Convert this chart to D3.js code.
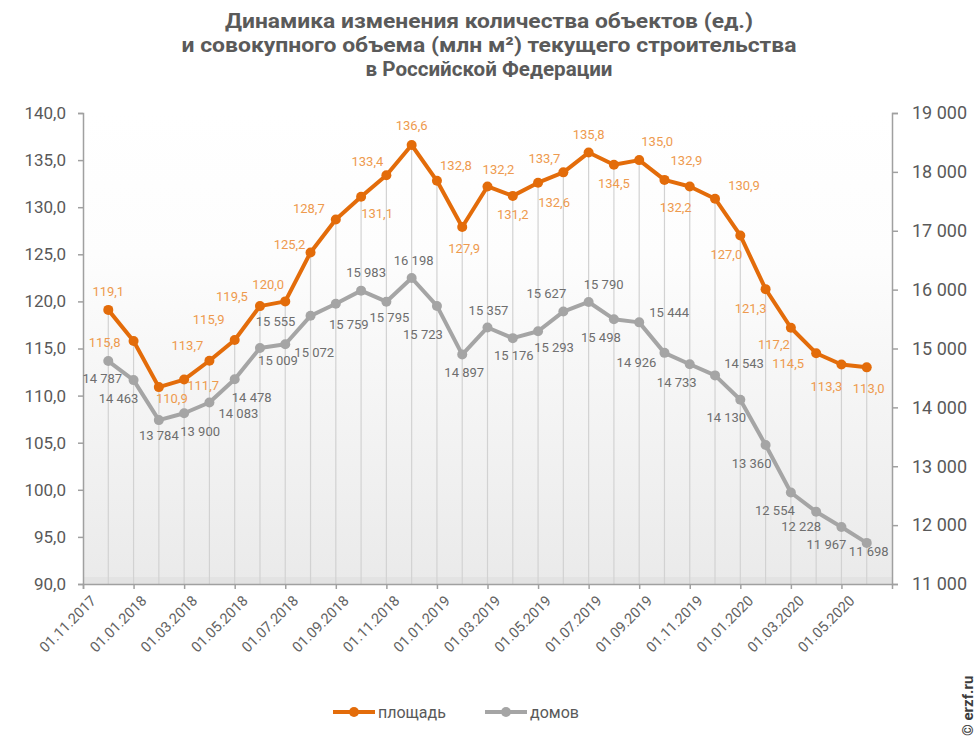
<!DOCTYPE html>
<html>
<head>
<meta charset="utf-8">
<script src="https://cdn.jsdelivr.net/npm/d3@7"></script>
<style>
  body { margin: 0; background: #fff; }
  text { font-family: Roboto, "Noto Sans", sans-serif; }
</style>
</head>
<body>
<svg id="chart" width="979" height="744"></svg>
<script>
// Monthly observations, 01.12.2017 – 01.06.2020
const months = [
  "01.12.2017","01.01.2018","01.02.2018","01.03.2018","01.04.2018","01.05.2018",
  "01.06.2018","01.07.2018","01.08.2018","01.09.2018","01.10.2018","01.11.2018",
  "01.12.2018","01.01.2019","01.02.2019","01.03.2019","01.04.2019","01.05.2019",
  "01.06.2019","01.07.2019","01.08.2019","01.09.2019","01.10.2019","01.11.2019",
  "01.12.2019","01.01.2020","01.02.2020","01.03.2020","01.04.2020","01.05.2020",
  "01.06.2020"
];
// total volume, mln m² (left axis)
const area = [
  119.1, 115.8, 110.9, 111.7, 113.7, 115.9, 119.5, 120.0, 125.2, 128.7, 131.1,
  133.4, 136.6, 132.8, 127.9, 132.2, 131.2, 132.6, 133.7, 135.8, 134.5, 135.0,
  132.9, 132.2, 130.9, 127.0, 121.3, 117.2, 114.5, 113.3, 113.0
];
// number of buildings (right axis)
const houses = [
  14787, 14463, 13784, 13900, 14083, 14478, 15009, 15072, 15555, 15759, 15983,
  15795, 16198, 15723, 14897, 15357, 15176, 15293, 15627, 15790, 15498, 15444,
  14926, 14733, 14543, 14130, 13360, 12554, 12228, 11967, 11698
];
const tickLabels = [
  "01.11.2017","01.01.2018","01.03.2018","01.05.2018","01.07.2018","01.09.2018",
  "01.11.2018","01.01.2019","01.03.2019","01.05.2019","01.07.2019","01.09.2019",
  "01.11.2019","01.01.2020","01.03.2020","01.05.2020"
];
const leftTicks = [90, 95, 100, 105, 110, 115, 120, 125, 130, 135, 140];
const rightTicks = [11000, 12000, 13000, 14000, 15000, 16000, 17000, 18000, 19000];
const seriesNames = ["площадь", "домов"];
const titleLines = [
  "Динамика изменения количества объектов (ед.)",
  "и совокупного объема (млн м²) текущего строительства",
  "в Российской Федерации"
];

// label placement relative to each marker (layout only)
const areaLabelShift = [
  [0,-18],[-29,1],[13,11],[19,6],[-22,-15],[-26,-21],[-28,-10],[-17,-17],[-21,-8],[-27,-11],
  [16,17],[-19,-14],[0,-20],[19,-15],[2,21],[11,-17],[0,19],[16,20],[-19,-14],[0,-18],
  [0,19],[18,-19],[22,-19],[-14,21],[29,-13],[-14,19],[-15,19],[-17,17],[-28,10],[-15,22],[2,21]
];
const housesLabelShift = [
  [-6,17],[-15,18],[0,15],[16,18],[29,11],[17,18],[18,12],[29,8],[-35,6],[13,21],
  [5,-18],[3,16],[2,-18],[-14,29],[2,18],[1,-17],[1,17],[16,16],[-17,-18],[15,-18],
  [-13,18],[30,-10],[-28,10],[-13,18],[29,-12],[-14,18],[-14,18],[-16,18],[-15,15],[-15,17],[2,9]
];

const ORANGE = "#e36c0a", ORANGE_TXT = "#ee9a4e";
const GRAY = "#a5a5a5", GRAY_TXT = "#6e6e6e", AXIS_TXT = "#595959";

const svg = d3.select("#chart");
const plotL = 83, plotR = 892, plotT = 113, plotB = 584;

const axisMonths = [tickLabels[0], ...months, "01.07.2020"];
const x = d3.scalePoint().domain(axisMonths).range([plotL, plotR]);
const yL = d3.scaleLinear().domain([90, 140]).range([plotB, plotT]);
const yR = d3.scaleLinear().domain([11000, 19000]).range([plotB, plotT]);

const fmtArea = d => d.toFixed(1).replace(".", ",");
const fmtHouses = d => d3.format(",")(d).replace(/,/g, " ");

// plot background
const defs = svg.append("defs");
const grad = defs.append("linearGradient").attr("id", "bg").attr("x1", 0).attr("y1", 0).attr("x2", 0).attr("y2", 1);
grad.append("stop").attr("offset", "0%").attr("stop-color", "#ffffff");
grad.append("stop").attr("offset", "30%").attr("stop-color", "#fdfdfd");
grad.append("stop").attr("offset", "100%").attr("stop-color", "#eaeaea");
svg.append("rect").attr("x", plotL).attr("y", plotT).attr("width", plotR - plotL).attr("height", plotB - plotT)
  .attr("fill", "url(#bg)");
svg.append("rect").attr("x", plotL).attr("y", plotB - 7).attr("width", plotR - plotL).attr("height", 7)
  .attr("fill", "#e3e3e3");

// drop lines from the area series
svg.append("g").selectAll("line").data(area).join("line")
  .attr("x1", (d, i) => x(months[i])).attr("x2", (d, i) => x(months[i]))
  .attr("y1", d => yL(d)).attr("y2", plotB)
  .attr("stroke", "#d2d2d2").attr("stroke-width", 1.2);

// title
svg.append("g").selectAll("text").data(titleLines).join("text")
  .attr("x", 489).attr("y", (d, i) => 28 + i * 24)
  .attr("text-anchor", "middle")
  .attr("font-size", 21).attr("font-weight", "bold").attr("fill", "#5a5a5a")
  .attr("textLength", (d, i) => [528, 615, 247][i])
  .attr("lengthAdjust", "spacingAndGlyphs")
  .text(d => d);

// axes
const gL = svg.append("g").attr("transform", `translate(${plotL},0)`)
  .call(d3.axisLeft(yL).tickValues(leftTicks).tickFormat(fmtArea).tickSize(5).tickPadding(12));
const gR = svg.append("g").attr("transform", `translate(${plotR},0)`)
  .call(d3.axisRight(yR).tickValues(rightTicks).tickFormat(fmtHouses).tickSize(6).tickPadding(14));
const gB = svg.append("g").attr("transform", `translate(0,${plotB})`)
  .call(d3.axisBottom(x).tickValues(tickLabels).tickSize(5).tickPadding(4));

[gL, gR, gB].forEach(g => {
  g.select(".domain").attr("stroke", "#a0a0a0").attr("stroke-width", 1.5);
  g.selectAll(".tick line").attr("stroke", "#a0a0a0").attr("stroke-width", 1.5);
  g.selectAll("text").attr("fill", AXIS_TXT).attr("font-family", "Roboto, sans-serif");
});
gL.selectAll("text").attr("font-size", 17);
gR.selectAll("text").attr("font-size", 18);
gB.selectAll("text").attr("font-size", 14.5).attr("fill", "#636363")
  .attr("text-anchor", "end")
  .attr("transform", "rotate(-45)")
  .attr("dx", "-0.2em").attr("dy", "0.9em");

// series
const lineArea = d3.line().x((d, i) => x(months[i])).y(d => yL(d));
const lineHouses = d3.line().x((d, i) => x(months[i])).y(d => yR(d));

svg.append("path").datum(houses).attr("d", lineHouses)
  .attr("fill", "none").attr("stroke", GRAY).attr("stroke-width", 4).attr("stroke-linejoin", "round");
svg.append("g").selectAll("circle").data(houses).join("circle")
  .attr("cx", (d, i) => x(months[i])).attr("cy", d => yR(d)).attr("r", 5).attr("fill", GRAY);

svg.append("path").datum(area).attr("d", lineArea)
  .attr("fill", "none").attr("stroke", ORANGE).attr("stroke-width", 4).attr("stroke-linejoin", "round");
svg.append("g").selectAll("circle").data(area).join("circle")
  .attr("cx", (d, i) => x(months[i])).attr("cy", d => yL(d)).attr("r", 5).attr("fill", ORANGE);

// value labels
svg.append("g").selectAll("text").data(houses).join("text")
  .attr("x", (d, i) => x(months[i]) + housesLabelShift[i][0])
  .attr("y", (d, i) => yR(d) + housesLabelShift[i][1])
  .attr("dy", "0.35em").attr("text-anchor", "middle")
  .attr("font-size", 13).attr("fill", GRAY_TXT)
  .text(fmtHouses);
svg.append("g").selectAll("text").data(area).join("text")
  .attr("x", (d, i) => x(months[i]) + areaLabelShift[i][0])
  .attr("y", (d, i) => yL(d) + areaLabelShift[i][1])
  .attr("dy", "0.35em").attr("text-anchor", "middle")
  .attr("font-size", 13).attr("fill", ORANGE_TXT)
  .text(fmtArea);

// legend
const legend = svg.append("g").attr("transform", "translate(333,712)");
const items = legend.selectAll("g").data(seriesNames).join("g")
  .attr("transform", (d, i) => `translate(${i * 152},0)`);
items.append("line").attr("x1", 0).attr("x2", 42).attr("y1", 0).attr("y2", 0)
  .attr("stroke", (d, i) => i ? GRAY : ORANGE).attr("stroke-width", 4);
items.append("circle").attr("cx", 21).attr("cy", 0).attr("r", 5)
  .attr("fill", (d, i) => i ? GRAY : ORANGE);
items.append("text").attr("x", 45).attr("y", 0).attr("dy", "0.35em")
  .attr("font-size", 16).attr("fill", AXIS_TXT).text(d => d);

// source mark
svg.append("text").attr("transform", "translate(973,736) rotate(-90)")
  .attr("font-size", 15).attr("font-weight", "bold").attr("fill", "#3c3c3c")
  .text("© erzf.ru");
</script>
</body>
</html>
